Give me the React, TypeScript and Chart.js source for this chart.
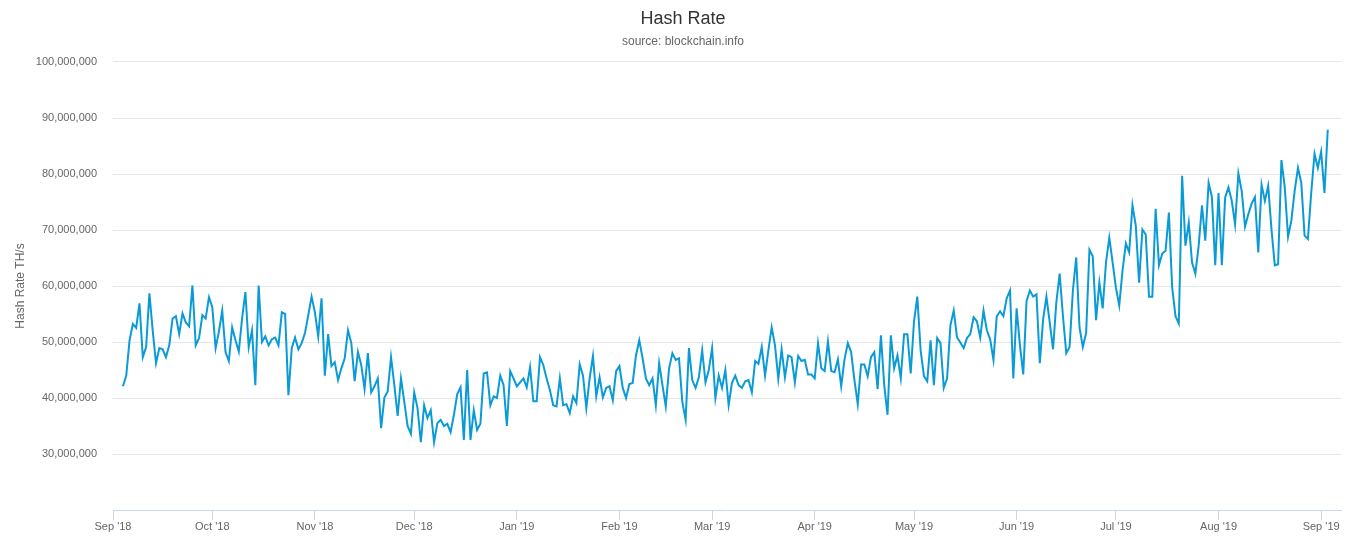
import { Chart, registerables } from "chart.js";
import { ChartConfiguration } from "chart.js";
import { useEffect, useRef } from "react";

Chart.register(...registerables);

const DAY = 86400000;
const axisStart = Date.UTC(2018, 8, 1);
const firstPoint = Date.UTC(2018, 8, 4);

const monthLabels = [
  "Sep '18", "Oct '18", "Nov '18", "Dec '18", "Jan '19", "Feb '19", "Mar '19",
  "Apr '19", "May '19", "Jun '19", "Jul '19", "Aug '19", "Sep '19",
];

// daily hash rate, millions of TH/s
const hashRate = [
  42.1, 44, 50.3, 53.2, 52.5, 56.9, 47.3, 49.1, 58.7, 52, 46.2, 48.9, 48.7, 47.3, 49.4,
  54.2, 54.6, 51.4, 55.1, 53.5, 52.8, 60.1, 49.4, 50.7, 54.8, 54.2, 58, 56.2, 48.9, 51.9,
  55.6, 48.2, 46.6, 52.6, 50.3, 48.3, 54.2, 58.9, 49.1, 52.1, 42.3, 60.1, 50, 51, 49.4,
  50.5, 50.8, 49.4, 55.3, 55, 40.5, 48.9, 50.8, 48.7, 49.8, 51.6, 54.8, 58.1, 55.3, 51,
  57.8, 44, 51.4, 45.7, 46.4, 43.2, 45.3, 47.1, 52.1, 49.8, 43, 48.2, 45.9, 41.6, 48,
  41, 42.1, 43.5, 34.6, 40.1, 41.2, 47.3, 42.3, 36.8, 43.5, 39.3, 35, 33.6, 41, 38.2,
  32.1, 38.7, 36.4, 37.8, 32.1, 35.5, 36.1, 35, 35.4, 33.9, 37, 40.7, 41.9, 32.5, 45,
  32.5, 37.8, 34.3, 35.4, 44.4, 44.6, 38.7, 40.3, 40, 44, 42.3, 35, 44.8, 43.5, 42.1,
  42.8, 43.5, 41.9, 45.5, 39.4, 39.4, 47.3, 45.9, 43.5, 41.4, 38.7, 38.5, 43.5, 38.7, 38.9,
  37.3, 40.3, 39.1, 46, 44, 38.2, 43.5, 47.5, 40.3, 43.7, 40.1, 41.8, 42.1, 39.6, 44.8,
  45.7, 41.8, 40, 42.5, 42.7, 47.6, 50.3, 47.1, 43.5, 42.3, 43.5, 38.7, 46.2, 42.3, 38.5,
  45.3, 48, 46.8, 47.1, 39.3, 36.1, 48.9, 43.2, 41.8, 43.7, 48.5, 42.8, 45, 48.9, 40,
  44, 41.8, 45, 38.7, 42.7, 44, 42.3, 41.8, 43, 43.2, 41, 46.6, 46.1, 49.1, 44,
  48.5, 52.6, 49.4, 43.4, 48.7, 43.7, 47.6, 47.3, 42.8, 47.5, 46.6, 46.8, 44.2, 44.2, 43.5,
  49.8, 45.3, 44.8, 50.1, 44.8, 44.6, 46.9, 42.1, 46.9, 49.8, 48.2, 43.2, 38.9, 46, 46,
  43.9, 47.3, 48.2, 41.6, 51.2, 42.3, 37, 51.2, 45.3, 47.6, 43.5, 51.4, 51.4, 44.4, 53.7,
  58.1, 48.5, 43.9, 43, 50.3, 42.3, 50.7, 49.8, 41.8, 43.5, 53, 55.6, 50.8, 49.9, 48.9,
  50.7, 51.4, 54.4, 53.7, 50.8, 55.6, 52.1, 50.5, 46.8, 54.6, 55.5, 54.6, 57.8, 59.2, 43.5,
  56, 49.4, 44.2, 57.3, 59.2, 58.1, 58.5, 46.2, 54, 58.1, 53.5, 48.7, 57.1, 62.2, 54.6,
  48, 49.1, 59.2, 65.1, 52.6, 49.1, 51.6, 66.5, 65.3, 53.9, 60.6, 56, 64.2, 68.6, 64.2,
  59.7, 56.5, 62.8, 67.6, 66, 74.4, 70.8, 60.6, 70.1, 69.2, 58.1, 58.1, 73.8, 63.7, 65.8,
  66.3, 73.1, 59.7, 54.6, 53.3, 79.7, 67.2, 71.3, 64.2, 62.2, 67.2, 74.4, 68.1, 78.4, 75.9,
  63.7, 76.6, 63.7, 75.8, 77.6, 75.2, 71, 80.1, 77, 70.6, 72.8, 74.7, 75.9, 66, 78.1,
  75.2, 77.9, 70.1, 63.7, 63.9, 82.5, 77.7, 68.8, 71.7, 77, 81.1, 78.4, 69, 68.4, 76.6,
  83.6, 81.1, 84, 76.6, 87.9,
];

const yMin = 20;
const yMax = 100;
const yStep = 10;

const FONT = "'Lucida Grande', 'Lucida Sans Unicode', 'Liberation Sans', Arial, sans-serif";

const App = () => {
  const canvasRef = useRef<HTMLCanvasElement>(null);

  useEffect(() => {
    document.body.style.margin = "0";
    const ctx = canvasRef.current?.getContext("2d");
    if (!ctx) {
      return;
    }

    const startOffset = (firstPoint - axisStart) / DAY;
    const monthOffsets = monthLabels.map(
      (_, i) => (Date.UTC(2018, 8 + i, 1) - axisStart) / DAY
    );
    const points = hashRate.map((v, i) => ({ x: startOffset + i, y: v }));

    const config: ChartConfiguration<"line"> = {
      type: "line",
      data: {
        datasets: [
          {
            label: "Hash Rate",
            data: points,
            borderColor: "#0a9bd6",
            borderWidth: 2,
            pointRadius: 0,
            tension: 0,
            fill: false,
          },
        ],
      },
      options: {
        animation: false,
        responsive: true,
        maintainAspectRatio: false,
        parsing: false,
        layout: { padding: 0 },
        plugins: {
          legend: { display: false },
          tooltip: { enabled: false },
          title: {
            display: true,
            text: "Hash Rate",
            color: "#333333",
            font: { family: FONT, size: 18, weight: "normal" },
            padding: { top: 8, bottom: 4 },
          },
          subtitle: {
            display: true,
            text: "source: blockchain.info",
            color: "#666666",
            font: { family: FONT, size: 12 },
            padding: { top: 1, bottom: 13 },
          },
        },
        scales: {
          x: {
            type: "linear",
            min: 0,
            max: 371,
            afterBuildTicks: (axis) => {
              axis.ticks = monthOffsets.map((value) => ({ value }));
            },
            afterFit: (scale) => {
              scale.height = 40;
            },
            border: { color: "#ccd6eb" },
            grid: {
              drawOnChartArea: false,
              color: "#ccd6eb",
              tickLength: 10,
            },
            ticks: {
              autoSkip: false,
              maxRotation: 0,
              color: "#666666",
              font: { family: FONT, size: 11 },
              padding: 0,
              callback: (_value, index) => monthLabels[index],
            },
          },
          y: {
            min: yMin,
            max: yMax,
            afterFit: (scale) => {
              scale.width = 113;
            },
            border: { display: false },
            grid: {
              color: (c) => (c.tick.value === yMin ? "transparent" : "#e6e6e6"),
              drawTicks: false,
            },
            ticks: {
              stepSize: yStep,
              color: "#666666",
              font: { family: FONT, size: 11 },
              padding: 16,
              callback: (value) =>
                Number(value) === yMin
                  ? ""
                  : (Number(value) * 1000000).toLocaleString("en-US"),
            },
            title: {
              display: true,
              text: "Hash Rate TH/s",
              color: "#666666",
              font: { family: FONT, size: 12 },
              padding: { top: 13, bottom: 0 },
            },
          },
          // empty right-hand gutter so the title stays centred on the page
          gutter: {
            type: "linear",
            position: "right",
            display: true,
            afterFit: (scale) => {
              scale.width = 25;
            },
            border: { display: false },
            grid: { display: false },
            ticks: { display: false },
          },
        },
      },
    };

    const chart = new Chart(ctx, config);
    return () => {
      chart.destroy();
    };
  }, []);

  return (
    <div style={{ width: 1366, height: 550, position: "relative" }}>
      <canvas ref={canvasRef} />
    </div>
  );
};

export default App;
